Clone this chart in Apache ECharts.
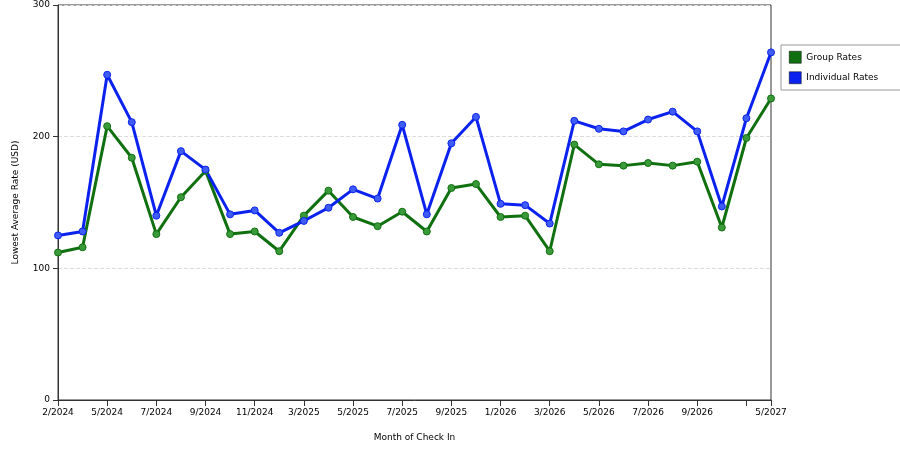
<!DOCTYPE html>
<html><head><meta charset="utf-8">
<script src="https://cdn.jsdelivr.net/npm/echarts@6/dist/echarts.min.js"></script>
<style>html,body{margin:0;padding:0;background:#fff}#c{width:900px;height:450px}</style>
</head><body><div id="c"></div>
<script>
const categories = ['2/2024','3/2024','5/2024','6/2024','7/2024','8/2024','9/2024','10/2024','11/2024','12/2024','3/2025','4/2025','5/2025','6/2025','7/2025','8/2025','9/2025','10/2025','1/2026','2/2026','3/2026','4/2026','5/2026','6/2026','7/2026','8/2026','9/2026','10/2026','4/2027','5/2027'];
const tickLabels = ['2/2024','','5/2024','','7/2024','','9/2024','','11/2024','','3/2025','','5/2025','','7/2025','','9/2025','','1/2026','','3/2026','','5/2026','','7/2026','','9/2026','','','5/2027'];
const groupRates = [112,116,208,184,126,154,174,126,128,113,140,159,139,132,143,128,161,164,139,140,113,194,179,178,180,178,181,131,199,229];
const individualRates = [125,128,247,211,140,189,175,141,144,127,136,146,160,153,209,141,195,215,149,148,134,212,206,204,213,219,204,147,214,264];
const tickShown = i => i % 2 === 0 || i >= 28;
const chart = echarts.init(document.getElementById('c'));
const font = 'DejaVu Sans';
chart.setOption({
  animation:false,
  textStyle:{fontFamily:font},
  grid:{left:58,right:129,top:5,bottom:50,show:true,borderColor:'#333',borderWidth:1},
  legend:{orient:'vertical',left:781,top:45,itemWidth:12,itemHeight:12,itemGap:8,
    borderColor:'#999',borderWidth:1,padding:[6,26,6,8],backgroundColor:'#fff',
    textStyle:{fontSize:9,color:'#000'},icon:'rect',
    data:[{name:'Group Rates',itemStyle:{color:'#107010',borderColor:'#000',borderWidth:0.5}},{name:'Individual Rates',itemStyle:{color:'#0b22ee',borderColor:'#000',borderWidth:0.5}}]},
  xAxis:{type:'category',data:categories,boundaryGap:false,name:'Month of Check In',nameLocation:'middle',nameGap:33,
    nameTextStyle:{fontSize:9,color:'#000'},
    axisLine:{lineStyle:{color:'#333'}},
    axisTick:{interval:(i)=>tickShown(i),length:6,lineStyle:{color:'#333'}},
    axisLabel:{interval:0,fontSize:9,color:'#000',formatter:(v,i)=>tickLabels[i],margin:8},
    splitLine:{show:false}},
  yAxis:{type:'value',min:0,max:300,interval:100,name:'Lowest Average Rate (USD)',nameLocation:'middle',nameGap:38,
    nameTextStyle:{fontSize:9,color:'#000'},
    axisLine:{show:true,lineStyle:{color:'#333'}},axisTick:{show:true,length:5},
    axisLabel:{fontSize:9,color:'#000'},
    splitLine:{lineStyle:{type:'dashed',color:'#ddd'}}},
  series:[
    {name:'Group Rates',type:'line',data:groupRates,symbol:'circle',symbolSize:7,
      lineStyle:{width:3,color:'#107010'},itemStyle:{color:'#3a9a3a',borderColor:'#107010',borderWidth:1}},
    {name:'Individual Rates',type:'line',data:individualRates,symbol:'circle',symbolSize:7,
      lineStyle:{width:3,color:'#0b22ee'},itemStyle:{color:'#3f5cf5',borderColor:'#0b22ee',borderWidth:1}}
  ]
});
</script></body></html>
